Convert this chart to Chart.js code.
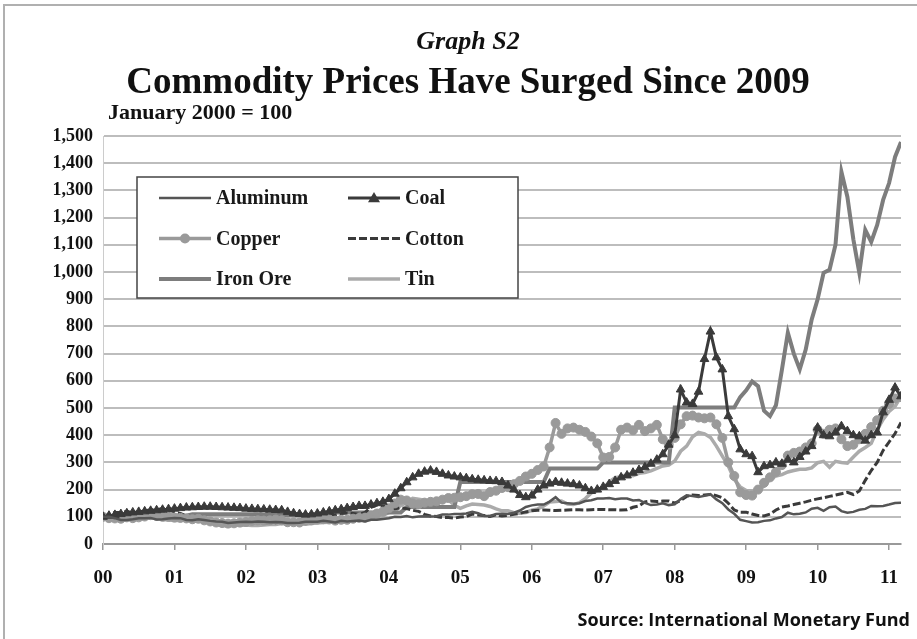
<!DOCTYPE html>
<html>
<head>
<meta charset="utf-8">
<script src="https://cdn.jsdelivr.net/npm/chart.js@4.4.1/dist/chart.umd.min.js"></script>
<style>
  html, body { margin: 0; padding: 0; background: #fff; overflow: hidden; }
  canvas { display: block; }
</style>
</head>
<body>
<canvas id="chart" width="917" height="639"></canvas>
<script>
// ── DATA (monthly, Jan 2000 = 100, Jan 2000 .. Mar 2011) ──
const YEAR_LABELS = ['00','01','02','03','04','05','06','07','08','09','10','11'];

const aluminum = [
  100,100,95,88,88,91,95,95,96,90,91,94,
  96,95,88,87,91,88,85,83,82,77,79,81,
  82,81,83,82,80,81,80,77,77,78,82,82,
  82,85,83,79,85,83,85,86,83,89,89,92,
  95,100,99,103,98,101,102,101,102,108,108,110,
  110,112,118,113,103,103,110,111,110,115,123,136,
  142,145,145,156,172,152,150,148,150,158,161,167,
  167,169,165,167,167,160,162,151,143,145,150,143,
  146,165,179,176,173,177,183,164,150,127,111,89,
  84,79,80,85,87,94,99,115,109,111,116,130,
  133,122,135,138,121,115,118,126,129,140,139,140,
  145,151,152
];

const coal = [
  100,104,107,110,113,116,118,120,122,124,126,128,
  130,132,134,135,136,137,137,136,135,134,133,132,
  130,129,128,127,126,125,124,118,113,110,108,109,
  112,116,120,124,128,132,136,140,140,145,150,155,
  165,185,205,227,245,258,266,270,265,258,252,248,
  245,242,238,236,234,232,231,228,215,200,180,172,
  178,200,215,222,228,225,222,220,215,205,195,200,
  210,220,232,245,252,262,272,282,295,310,330,365,
  400,568,520,515,560,680,781,686,642,470,422,348,
  330,323,264,286,290,300,295,310,300,320,340,360,
  428,400,396,410,433,415,400,396,380,400,410,484,
  530,575,543
];

const copper = [
  100,95,94,93,98,95,98,101,106,103,100,100,
  97,96,94,91,93,87,83,79,77,75,76,79,
  81,85,87,86,87,90,87,80,80,79,86,87,
  90,91,90,86,89,89,93,96,97,104,112,119,
  131,149,163,160,149,146,152,155,157,163,169,170,
  172,176,183,184,176,191,196,206,209,220,232,248,
  258,272,285,355,445,405,425,428,420,412,395,370,
  318,320,355,420,428,418,438,415,425,438,385,365,
  390,440,470,472,465,462,465,440,390,300,250,190,
  180,178,200,225,245,265,290,325,335,340,355,370,
  420,405,420,425,385,360,365,385,405,430,455,490,
  515,535,540
];

const cotton = [
  100,110,116,116,120,114,118,122,126,126,130,126,
  118,112,103,95,93,90,90,86,80,76,74,76,
  80,80,82,78,78,78,86,88,84,88,95,101,
  107,109,109,107,112,114,112,109,116,135,143,139,
  137,130,133,130,124,120,109,103,101,97,97,95,
  99,101,110,107,105,101,107,103,105,109,113,118,
  122,124,125,124,123,124,125,126,126,125,126,127,
  127,126,126,125,126,135,140,155,158,156,158,158,
  150,160,175,180,178,180,182,178,170,150,125,117,
  117,110,105,103,110,125,136,140,145,150,155,161,
  166,170,175,180,185,190,182,195,234,270,300,344,
  375,406,447
];

const ironOre = [
  100,100,100,100,104,104,104,104,104,104,104,104,
  104,104,104,109,109,109,109,109,109,109,109,109,
  109,109,109,107,107,107,107,107,107,107,107,107,
  107,107,107,116,116,116,116,116,116,116,116,116,
  116,116,116,136,136,136,136,136,136,136,136,136,
  228,228,228,228,228,228,228,228,228,228,228,228,
  228,228,228,278,278,278,278,278,278,278,278,278,
  300,300,300,300,300,300,300,300,300,300,300,300,
  502,502,502,502,502,502,502,502,502,502,502,540,
  565,598,580,490,470,510,640,777,700,642,715,825,
  900,997,1008,1100,1368,1276,1120,997,1155,1111,1173,1265,
  1327,1423,1478
];

const tin = [
  100,99,98,98,99,97,98,97,96,94,90,88,
  86,86,89,88,84,81,78,72,68,66,70,68,
  70,68,68,70,72,72,75,73,74,74,73,75,
  77,79,80,82,82,83,85,88,90,91,95,104,
  116,120,142,152,168,165,161,154,158,167,163,142,
  131,140,147,145,143,138,129,122,122,115,113,116,
  124,129,140,154,156,158,147,145,152,167,188,197,
  204,229,244,247,256,251,260,263,269,278,287,290,
  305,341,360,394,410,405,392,360,323,287,238,210,
  197,195,195,213,238,250,255,265,270,275,275,280,
  299,304,282,304,300,297,320,341,355,370,420,458,
  487,506,543
];

const SERIF = "'Liberation Serif', 'Times New Roman', serif";
const SANS  = "'Open Sans', 'Liberation Sans', sans-serif";

const toPoints = arr => arr.map((v, i) => ({ x: i, y: v }));

// ── DECORATION PLUGIN: frame, titles, boxed legend, source ──
const decorPlugin = {
  id: 'decor',
  beforeDraw(chart) {
    const { ctx, width, height } = chart;
    ctx.save();
    ctx.fillStyle = '#ffffff';
    ctx.fillRect(0, 0, width, height);
    ctx.strokeStyle = '#b0b0b0';
    ctx.lineWidth = 2;
    ctx.strokeRect(4, 5, width + 20, height + 20);
    ctx.restore();
  },
  afterDraw(chart) {
    const { ctx } = chart;
    ctx.save();
    ctx.fillStyle = '#111';
    ctx.textBaseline = 'middle';
    ctx.textAlign = 'center';
    ctx.font = `italic bold 26px ${SERIF}`;
    ctx.fillText('Graph S2', 468, 42);
    ctx.font = `bold 37px ${SERIF}`;
    ctx.fillText('Commodity Prices Have Surged Since 2009', 468, 83);
    ctx.textAlign = 'left';
    ctx.font = `bold 22px ${SERIF}`;
    ctx.fillText('January 2000 = 100', 108, 113);
    ctx.textAlign = 'right';
    ctx.font = `bold 18px ${SANS}`;
    ctx.fillText('Source: International Monetary Fund', 910, 621);

    // legend box
    ctx.fillStyle = '#ffffff';
    ctx.fillRect(137, 177, 381, 121);
    ctx.strokeStyle = '#444';
    ctx.lineWidth = 1.5;
    ctx.strokeRect(137, 177, 381, 121);

    chart.data.datasets.forEach((ds, i) => {
      const col = i % 2, row = Math.floor(i / 2);
      const x0 = col === 0 ? 159 : 348;
      const y = 198 + row * 40.5;
      ctx.save();
      ctx.strokeStyle = ds.borderColor;
      ctx.lineWidth = ds.borderWidth;
      ctx.setLineDash(ds.borderDash || []);
      ctx.beginPath();
      ctx.moveTo(x0, y);
      ctx.lineTo(x0 + 52, y);
      ctx.stroke();
      ctx.restore();
      if (ds.pointRadius > 0) {
        ctx.save();
        ctx.fillStyle = ds.pointBackgroundColor;
        ctx.beginPath();
        if (ds.pointStyle === 'triangle') {
          const r = ds.pointRadius + 1;
          ctx.moveTo(x0 + 26, y - r);
          ctx.lineTo(x0 + 26 + r, y + r * 0.7);
          ctx.lineTo(x0 + 26 - r, y + r * 0.7);
          ctx.closePath();
        } else {
          ctx.arc(x0 + 26, y, ds.pointRadius + 0.5, 0, Math.PI * 2);
        }
        ctx.fill();
        ctx.restore();
      }
      ctx.fillStyle = '#1a1a1a';
      ctx.textAlign = 'left';
      ctx.font = `bold 20px ${SERIF}`;
      ctx.fillText(ds.label, x0 + 57, y + 1);
    });
    ctx.restore();
  }
};

const lineBase = { pointRadius: 0, pointHoverRadius: 0, tension: 0, fill: false };

new Chart(document.getElementById('chart'), {
  type: 'line',
  data: {
    datasets: [
      { ...lineBase, label: 'Aluminum', data: toPoints(aluminum),
        borderColor: '#555555', borderWidth: 2.5 },
      { ...lineBase, label: 'Coal', data: toPoints(coal),
        borderColor: '#3a3a3a', borderWidth: 3,
        pointRadius: 5, pointStyle: 'triangle',
        pointBackgroundColor: '#3a3a3a', pointBorderColor: '#3a3a3a', pointBorderWidth: 1 },
      { ...lineBase, label: 'Copper', data: toPoints(copper),
        borderColor: '#9a9a9a', borderWidth: 3.5,
        pointRadius: 4.5, pointStyle: 'circle',
        pointBackgroundColor: '#9a9a9a', pointBorderColor: '#9a9a9a', pointBorderWidth: 1 },
      { ...lineBase, label: 'Cotton', data: toPoints(cotton),
        borderColor: '#3a3a3a', borderWidth: 3, borderDash: [8, 3] },
      { ...lineBase, label: 'Iron Ore', data: toPoints(ironOre),
        borderColor: '#7d7d7d', borderWidth: 4 },
      { ...lineBase, label: 'Tin', data: toPoints(tin),
        borderColor: '#ababab', borderWidth: 3.5 },
    ]
  },
  options: {
    responsive: false,
    animation: false,
    devicePixelRatio: 1,
    layout: { padding: { top: 136, right: 16, bottom: 0, left: 0 } },
    plugins: {
      legend: { display: false },
      tooltip: { enabled: false },
      title: { display: false }
    },
    scales: {
      x: {
        type: 'linear',
        min: 0,
        max: 134,
        afterBuildTicks: s => { s.ticks = YEAR_LABELS.map((_, i) => ({ value: i * 12 })); },
        afterFit: s => { s.height = 95; },
        ticks: {
          autoSkip: false,
          maxRotation: 0,
          padding: 17,
          color: '#111',
          font: { family: SERIF, size: 19, weight: 'bold' },
          callback: v => YEAR_LABELS[Math.round(v / 12)]
        },
        grid: { drawOnChartArea: false, drawTicks: true, tickLength: 6, color: '#999', lineWidth: 1.5 },
        border: { display: true, color: '#999', width: 2 }
      },
      y: {
        min: 0,
        max: 1500,
        afterFit: s => { s.width = 103; },
        ticks: {
          stepSize: 100,
          padding: 10,
          color: '#111',
          font: { family: SERIF, size: 18, weight: 'bold' },
          callback: v => v.toLocaleString('en-US')
        },
        grid: { color: '#bdbdbd', lineWidth: 2, drawTicks: false },
        border: { display: true, color: '#cccccc', width: 1 }
      }
    }
  },
  plugins: [decorPlugin]
});
</script>
</body>
</html>
